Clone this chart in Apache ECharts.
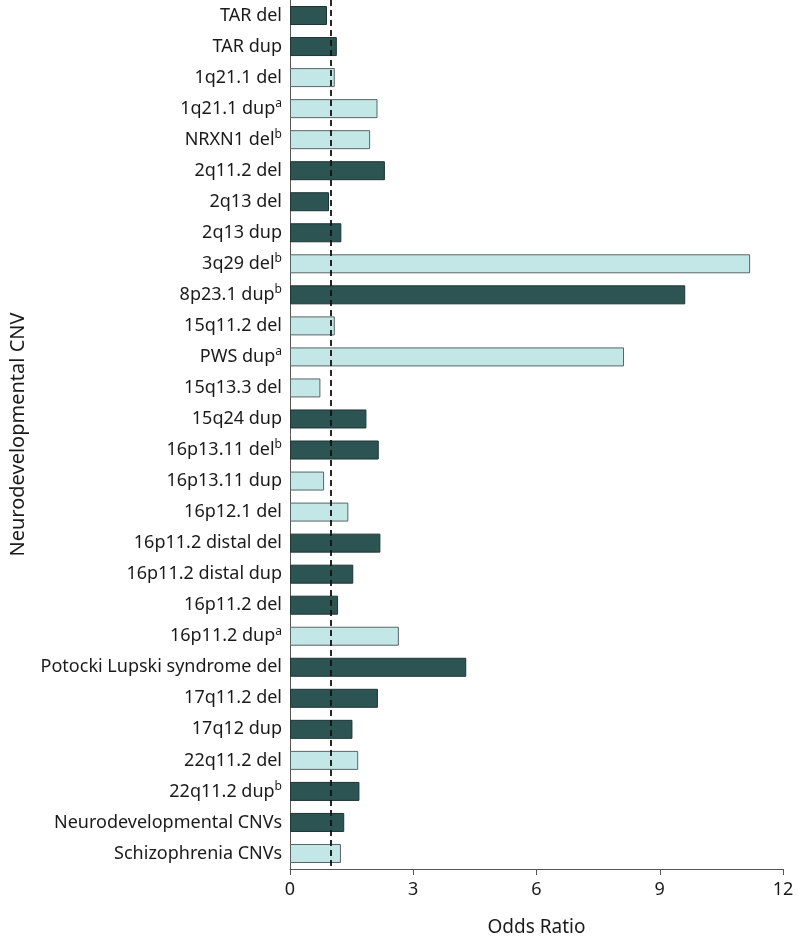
<!DOCTYPE html>
<html>
<head>
<meta charset="utf-8">
<script src="https://cdn.jsdelivr.net/npm/echarts@6/dist/echarts.min.js"></script>
<style>
  html, body { margin: 0; padding: 0; background: #fff; }
  #chart-container { width: 798px; height: 942px; }
</style>
</head>
<body>
<div id="chart-container"></div>
<script>
// CNV names, top to bottom
var categories = [
	'TAR del', 'TAR dup', '1q21.1 del', '1q21.1 dup', 'NRXN1 del',
	'2q11.2 del', '2q13 del', '2q13 dup', '3q29 del', '8p23.1 dup',
	'15q11.2 del', 'PWS dup', '15q13.3 del', '15q24 dup', '16p13.11 del',
	'16p13.11 dup', '16p12.1 del', '16p11.2 distal del', '16p11.2 distal dup', '16p11.2 del',
	'16p11.2 dup', 'Potocki Lupski syndrome del', '17q11.2 del', '17q12 dup', '22q11.2 del',
	'22q11.2 dup', 'Neurodevelopmental CNVs', 'Schizophrenia CNVs'
];
// superscript footnote marks
var footnotes = [
	'', '', '', 'a', 'b',
	'', '', '', 'b', 'b',
	'', 'a', '', '', 'b',
	'', '', '', '', '',
	'a', '', '', '', '',
	'b', '', ''
];
// odds ratios
var oddsRatios = [
	0.90, 1.14, 1.09, 2.13, 1.95,
	2.31, 0.95, 1.25, 11.2, 9.62,
	1.09, 8.13, 0.74, 1.86, 2.16,
	0.83, 1.42, 2.20, 1.54, 1.17,
	2.65, 4.29, 2.14, 1.52, 1.66,
	1.69, 1.32, 1.24
];
// bar group: 1 = dark, 2 = light
var groups = [
	1, 1, 2, 2, 2,
	1, 1, 1, 2, 1,
	2, 2, 2, 1, 1,
	2, 2, 1, 1, 1,
	2, 1, 1, 1, 2,
	1, 1, 2
];
var xTicks = [0, 3, 6, 9, 12];
var referenceLine = 1;

var FONT = '"Noto Sans", sans-serif';
var groupColor = { 1: '#2b5453', 2: '#c3e7e6' };

var chartDom = document.getElementById('chart-container');
var myChart = echarts.init(chartDom);

var barData = oddsRatios.map(function (v, i) {
	return {
		value: v,
		itemStyle: {
			color: groupColor[groups[i]],
			borderColor: groups[i] === 1 ? '#1e3534' : '#5a6464',
			borderWidth: 1
		}
	};
});

var option = {
	animation: false,
	grid: {
		left: 284,
		right: 15,
		top: -3,
		bottom: 69
	},
	xAxis: {
		type: 'value',
		min: xTicks[0],
		max: xTicks[xTicks.length - 1],
		interval: 3,
		name: 'Odds Ratio',
		nameLocation: 'middle',
		nameGap: 49,
		nameTextStyle: { fontFamily: FONT, fontSize: 19, color: '#1a1a1a' },
		axisLine: { show: true, lineStyle: { color: '#555', width: 1 } },
		axisTick: { show: true, length: 6, lineStyle: { color: '#555' } },
		axisLabel: { fontFamily: FONT, fontSize: 18, color: '#1a1a1a', margin: 12 },
		splitLine: { show: false }
	},
	yAxis: {
		type: 'category',
		inverse: true,
		data: categories,
		name: 'Neurodevelopmental CNV',
		nameLocation: 'middle',
		nameGap: 262,
		nameRotate: 90,
		nameTextStyle: { fontFamily: FONT, fontSize: 20, color: '#1a1a1a' },
		axisLine: { show: true, lineStyle: { color: '#555', width: 1 } },
		axisTick: { show: false },
		axisLabel: {
			interval: 0,
			margin: 8,
			formatter: function (value, idx) {
				var s = footnotes[idx];
				return '{n|' + value + '}' + (s ? '{s|' + s + '}' : '');
			},
			rich: {
				n: { fontFamily: FONT, fontSize: 18, color: '#1a1a1a', lineHeight: 22 },
				s: { fontFamily: FONT, fontSize: 12, color: '#1a1a1a', lineHeight: 13, verticalAlign: 'top' }
			}
		}
	},
	series: [{
		type: 'bar',
		data: barData,
		barWidth: 19,
		markLine: {
			silent: true,
			symbol: 'none',
			label: { show: false },
			lineStyle: { color: '#111', type: [6, 4], width: 1.8 },
			data: [{ xAxis: referenceLine }]
		}
	}]
};

myChart.setOption(option);

window.addEventListener('resize', function () {
	myChart.resize();
});
</script>
</body>
</html>
